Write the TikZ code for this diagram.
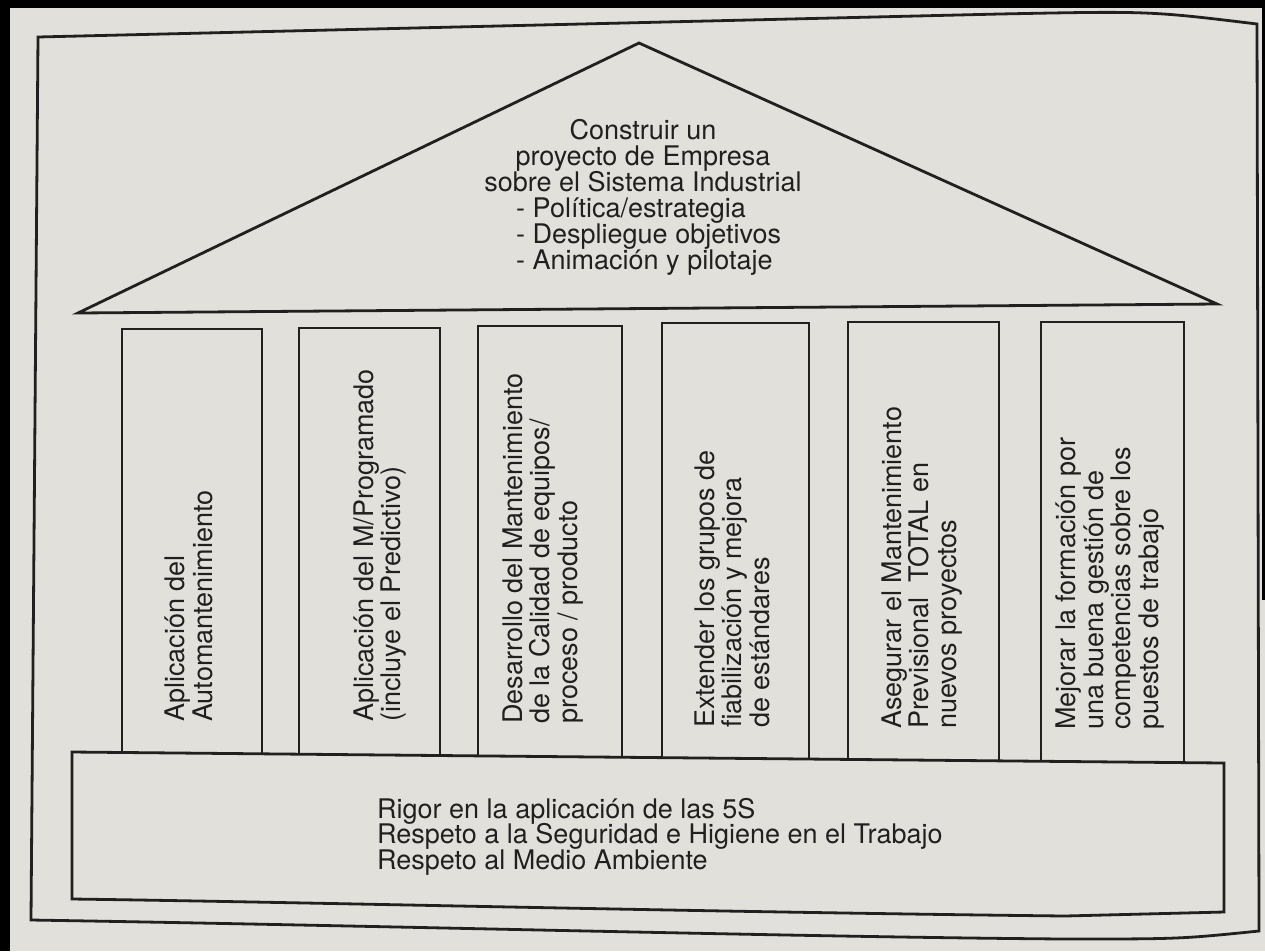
\documentclass[tikz,border=0pt]{standalone}
\usepackage{fontspec}
\setmainfont{TeX Gyre Heros}
\definecolor{paper}{RGB}{226,224,218}
\definecolor{ink}{RGB}{32,32,32}
% keep a fixed baseline distance even when lines are tall
\newcommand{\tightlines}{\lineskiplimit=-50pt\relax}
\begin{document}
\begin{tikzpicture}[x=1pt,y=-1pt,
  outline/.style={draw=ink, line width=2.8pt, line join=miter},
  textbase/.style={text=ink, inner sep=0pt},
  rooftext/.style={textbase, font=\fontsize{27}{26}\selectfont\tightlines},
  pillartext/.style={textbase, font=\fontsize{27}{27.5}\selectfont\tightlines,
    rotate=90, anchor=west, align=left},
  basetext/.style={textbase, font=\fontsize{27}{25.5}\selectfont\tightlines,
    anchor=base west, align=left}]
\useasboundingbox (0,0) rectangle (1265,951);
% paper and the dark edge around the sheet
\fill[paper] (0,0) rectangle (1265,951);
\fill[black] (0,0) rectangle (1265,8);
\fill[black] (0,0) rectangle (10,951);
\fill[black] (1262,0) rectangle (1265,600);

% outer frame
\draw[outline] (38,37) -- (1000,14) .. controls (1150,11) .. (1257,24)
  -- (1259,931) .. controls (1180,939) .. (1065,939)
  .. controls (800,937) and (400,926) .. (31,920) -- cycle;

% roof
\draw[outline] (78,313) -- (639,43) -- (1217,304) -- cycle;
\node[rooftext, align=center, anchor=base] (roofhead) at (643,191)
  {Construir un\\proyecto de Empresa\\sobre el Sistema Industrial};
\node[rooftext, align=left, anchor=base west] (rooflist) at (516,269)
  {- Política/estrategia\\- Despliegue objetivos\\- Animación y pilotaje};

% pillars
\draw[outline] (122,753) -- (122,329) -- (262,329) -- (262,754);
\draw[outline] (299,754) -- (299,328) -- (440,328) -- (440,755);
\draw[outline] (478,756) -- (478,326) -- (622,326) -- (622,757);
\draw[outline] (662,758) -- (662,323) -- (809,323) -- (809,759);
\draw[outline] (848,760) -- (848,322) -- (999,322) -- (999,761);
\draw[outline] (1041,761) -- (1041,322) -- (1184,322) -- (1184,763);

\node[pillartext] (p1) at (189,722) {Aplicación del\\Automantenimiento};
\node[pillartext] (p2) at (380,722) {Aplicación del M/Programado\\(incluye el Predictivo)};
\node[pillartext] (p3) at (543,724) {Desarrollo del Mantenimiento\\de la Calidad de equipos/\\proceso / producto};
\node[pillartext] (p4) at (732,728) {Extender los grupos de\\fiabilización y mejora\\de estándares};
\node[pillartext] (p5) at (922,729) {Asegurar el Mantenimiento\\Previsional\ \ TOTAL en\\nuevos proyectos};
\node[pillartext] (p6) at (1110,730) {Mejorar la formación por\\una buena gestión de\\competencias sobre los\\puestos de trabajo};

% base
\draw[outline] (72,752) -- (1224,763) -- (1224,912) -- (1065,916)
  .. controls (700,912) and (300,902) .. (72,899) -- cycle;
\node[basetext] (basis) at (377,869)
  {Rigor en la aplicación de las 5S\\Respeto a la Seguridad e Higiene en el Trabajo\\Respeto al Medio Ambiente};
\end{tikzpicture}
\end{document}
